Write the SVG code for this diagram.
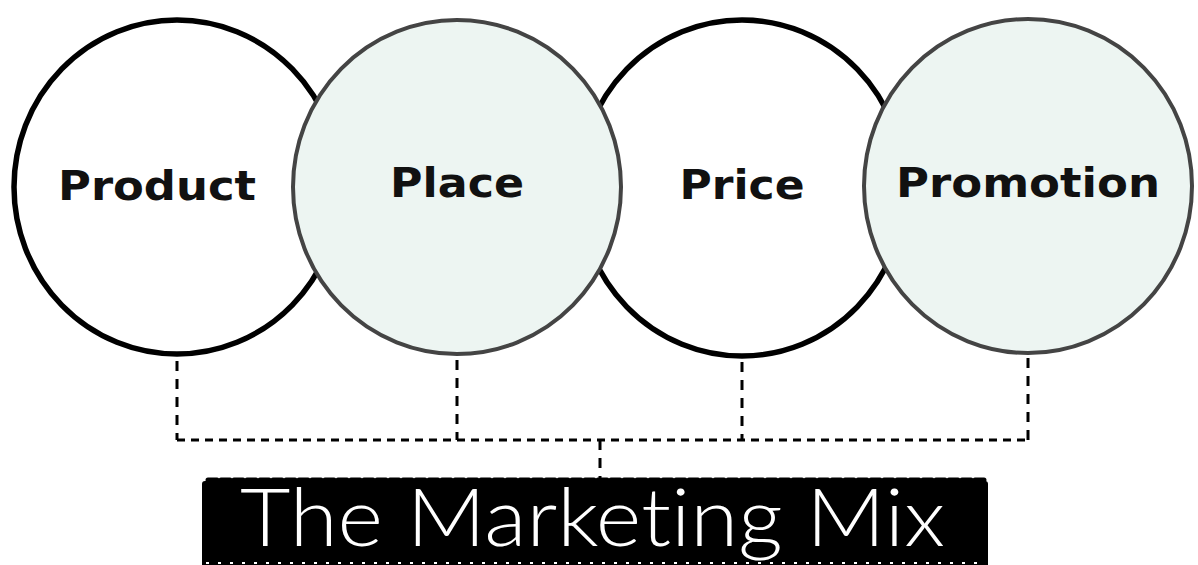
<svg xmlns="http://www.w3.org/2000/svg" width="1198" height="565" viewBox="0 0 1198 565">
<style>
.dark{fill:#ffffff;stroke:#000000;stroke-width:5.5}
.light{fill:#edf5f2;stroke:#444444;stroke-width:4}
.lbl{font-family:"DejaVu Sans","Liberation Sans",sans-serif;font-weight:bold;font-size:40px;fill:#111111;text-anchor:middle}
.conn{fill:none;stroke:#000000;stroke-width:3;stroke-dasharray:10 8}
.title{font-family:Lato,"Open Sans","Liberation Sans",sans-serif;font-weight:300;font-size:80px;fill:#ffffff;font-variant-ligatures:none}
</style>
<rect width="1198" height="565" fill="#ffffff"/>
<g id="connectors">
<path class="conn" d="M177,361 V440 M457,360 V440 M742,362 V440 M1028,358 V440"/>
<path class="conn" d="M177,440 H1028" style="stroke-dasharray:8 6"/>
<path class="conn" d="M600,440 V478"/>
</g>
<g id="product">
<ellipse class="dark" cx="177" cy="187" rx="163" ry="167"/>
<text class="lbl" x="157" y="200" textLength="198" lengthAdjust="spacingAndGlyphs">Product</text>
</g>
<g id="price">
<ellipse class="dark" cx="742" cy="188" rx="163" ry="168"/>
<text class="lbl" x="742" y="199" textLength="125" lengthAdjust="spacingAndGlyphs">Price</text>
</g>
<g id="place">
<ellipse class="light" cx="457" cy="187" rx="164" ry="167"/>
<text class="lbl" x="457" y="197" textLength="134" lengthAdjust="spacingAndGlyphs">Place</text>
</g>
<g id="promotion">
<ellipse class="light" cx="1028" cy="186" rx="164" ry="167"/>
<text class="lbl" x="1028" y="197" textLength="264" lengthAdjust="spacingAndGlyphs">Promotion</text>
</g>
<g id="title">
<path d="M202,565 V484 Q202,481 205,481 H985 Q988,481 988,484 V565 Z" fill="#000000"/>
<path fill="none" stroke="#000000" stroke-width="5" stroke-dasharray="9 4" stroke-linecap="round" d="M208,480 H984"/>
<path fill="none" stroke="#ffffff" stroke-width="2" stroke-dasharray="3 9" d="M206,563 H984"/>
<text class="title" x="240" y="546" textLength="705" lengthAdjust="spacingAndGlyphs">The Marketing Mix</text>
</g>
</svg>
